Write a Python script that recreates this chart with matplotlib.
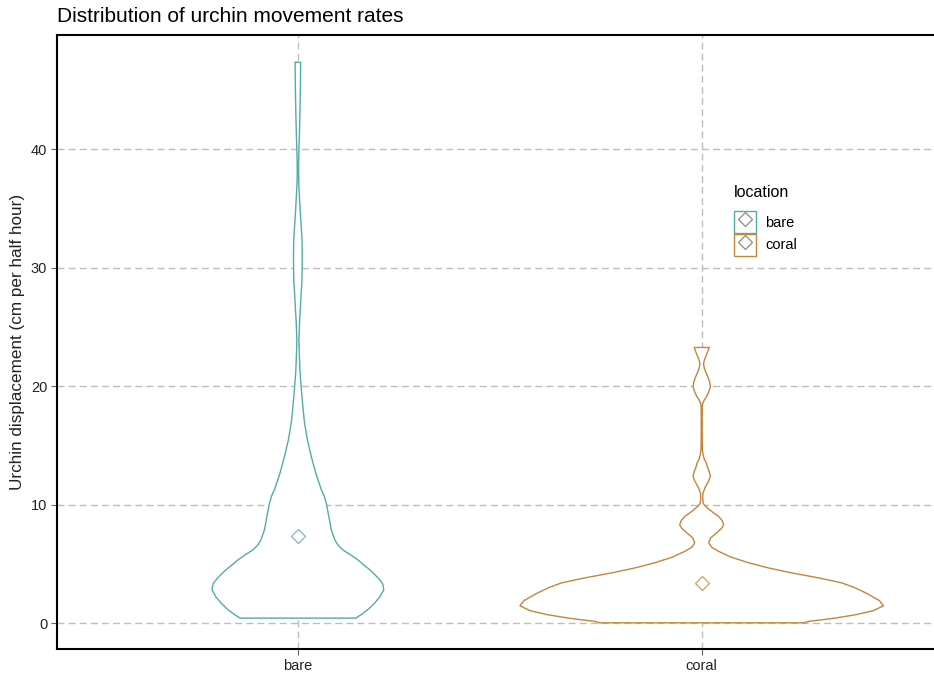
import matplotlib
matplotlib.use("Agg")
import matplotlib.pyplot as plt
from matplotlib.patches import Patch
from matplotlib.lines import Line2D
from matplotlib.legend_handler import HandlerTuple
import numpy as np

plt.rcParams['font.family'] = ['Liberation Sans', 'DejaVu Sans']

# ---- data ----
categories = ["bare", "coral"]
legend_title = "location"
title = "Distribution of urchin movement rates"
ylabel = "Urchin displacement (cm per half hour)"
yticks = [0, 10, 20, 30, 40]

# violin outline: y values and relative density (coral max = 1)
bare_y = [0.42, 0.8, 1.2, 1.7, 2.2, 2.8, 3.3, 3.65, 4.1, 4.5, 4.9, 5.34, 5.8, 6.18,
          6.6, 7.03, 7.87, 9.0, 10.1, 10.7, 11.25, 12.63, 14.04, 15.47, 17.0, 18.25, 19.7,
          21.1, 22.5, 23.9, 25.4, 26.6, 27.7, 28.8, 29.9, 31.0, 32.2, 33.0, 33.9, 35.0,
          36.1, 37.1, 38.1, 39.1, 40.1, 41.5, 42.9, 45.1, 47.35]
bare_d = [58, 65, 71, 77, 82, 86, 85, 82, 77, 72, 66, 60, 52, 45,
          40, 37, 33.5, 31, 28.5, 26.5, 23.5, 18, 13.5, 9.5, 6.5, 5, 3.5,
          2.2, 1.5, 1.0, 1.7, 2.5, 3.2, 4, 4.3, 4.4, 4.2, 3.7, 3.0, 2.2,
          1.5, 0.9, 0.6, 0.8, 1.1, 1.6, 2.0, 2.5, 2.8]
coral_y = [0.02, 0.14, 0.40, 0.70, 1.05, 1.46, 1.9, 2.56, 3.0, 3.40, 3.8, 4.24, 4.65,
           5.09, 5.55, 6.05, 6.4, 6.78, 7.2, 7.62, 8.0, 8.30, 8.65, 9.0, 9.3, 9.56,
           9.85, 10.1, 10.5, 10.95, 11.25, 11.5, 12.0, 12.4, 12.8, 13.1, 13.5, 13.85,
           14.2, 14.6, 15.5, 16.5, 17.5, 18.3, 18.55, 18.85, 19.1, 19.5, 19.97, 20.4,
           20.8, 21.2, 21.55, 21.9, 22.25, 22.6, 22.95, 23.27]
coral_d = [102, 107, 132, 154, 172, 182, 178, 164, 153, 140, 118, 90, 67,
           47, 30, 17, 10, 7, 9, 15, 20, 22, 20.5, 17, 12, 8,
           4, 1.5, 1, 1.2, 2.5, 3.7, 7, 8.7, 7.5, 6, 4.7, 2.5,
           1.5, 0.7, 0.5, 0.5, 0.5, 0.6, 1, 2.7, 4.7, 7, 8.7, 7.8,
           6.0, 4.0, 2.5, 1.8, 2.8, 4.5, 6.2, 7.5]
density_max = 182.0
means = [7.37, 3.40]

colors = ["#52ADA4", "#C2863C"]

# ---- figure ----
W, H = 934, 677
fig = plt.figure(figsize=(W / 100, H / 100), dpi=100)
ax = fig.add_axes([57 / W, (H - 649) / H, (944 - 57) / W, (649 - 35) / H])

ax.set_xlim(0.4035, 2.6)
ax.set_ylim(-2.19, 49.65)

dash = (0, (5, 3))
for yv in yticks:
    ax.axhline(yv, color="#BDBDBD", lw=1.0, ls=dash, zorder=0)
for i in range(len(categories)):
    ax.axvline(i + 1, color="#BDBDBD", lw=1.0, ls=dash, zorder=0)

half_width = 0.45
profiles = [(bare_y, bare_d), (coral_y, coral_d)]
for i, (ys, ds) in enumerate(profiles):
    ys = np.asarray(ys)
    w = np.asarray(ds) / density_max * half_width
    cx = i + 1
    px = np.concatenate([cx - w, (cx + w)[::-1]])
    py = np.concatenate([ys, ys[::-1]])
    ax.fill(px, py, facecolor="white", edgecolor=colors[i], lw=1.0, zorder=2,
            joinstyle="round")
    ax.plot([cx], [means[i]], marker="D", ms=7.2, mfc="none", mec=colors[i],
            mew=0.9, alpha=0.8, zorder=3)

ax.set_xticks([1, 2])
ax.set_xticklabels(categories)
ax.set_yticks(yticks)
ax.tick_params(axis="both", colors="#666666", length=4, width=0.8,
               labelsize=10.5, labelcolor="#222222", pad=3)
for side in ["left", "bottom", "top", "right"]:
    ax.spines[side].set_color("black")
    ax.spines[side].set_linewidth(1.5)

fig.text(57 / W, 1 - 16 / H, title, fontsize=15, ha="left", va="center", color="black")
fig.text(18 / W, 1 - 342 / H, ylabel, fontsize=12.3, rotation=90, ha="center",
         va="center", color="#222222")

handles = []
for c in colors:
    handles.append((Patch(facecolor="white", edgecolor=c, lw=1.0),
                    Line2D([], [], marker="D", ms=7.2, mfc="none", mec="#8A8A8A",
                           mew=0.9, ls="none")))
leg = fig.legend(handles, categories, title=legend_title,
                 handler_map={tuple: HandlerTuple(ndivide=1)},
                 loc="upper left", bbox_to_anchor=(734 / W, 1 - 185 / H),
                 frameon=False, fontsize=10.5, title_fontsize=11.5,
                 handlelength=1.51, handleheight=1.94, labelspacing=0.05,
                 handletextpad=0.62, borderpad=0, borderaxespad=0,
                 numpoints=1, alignment="left")
leg._legend_box.sep = 8

fig.savefig("out.png", dpi=100)
